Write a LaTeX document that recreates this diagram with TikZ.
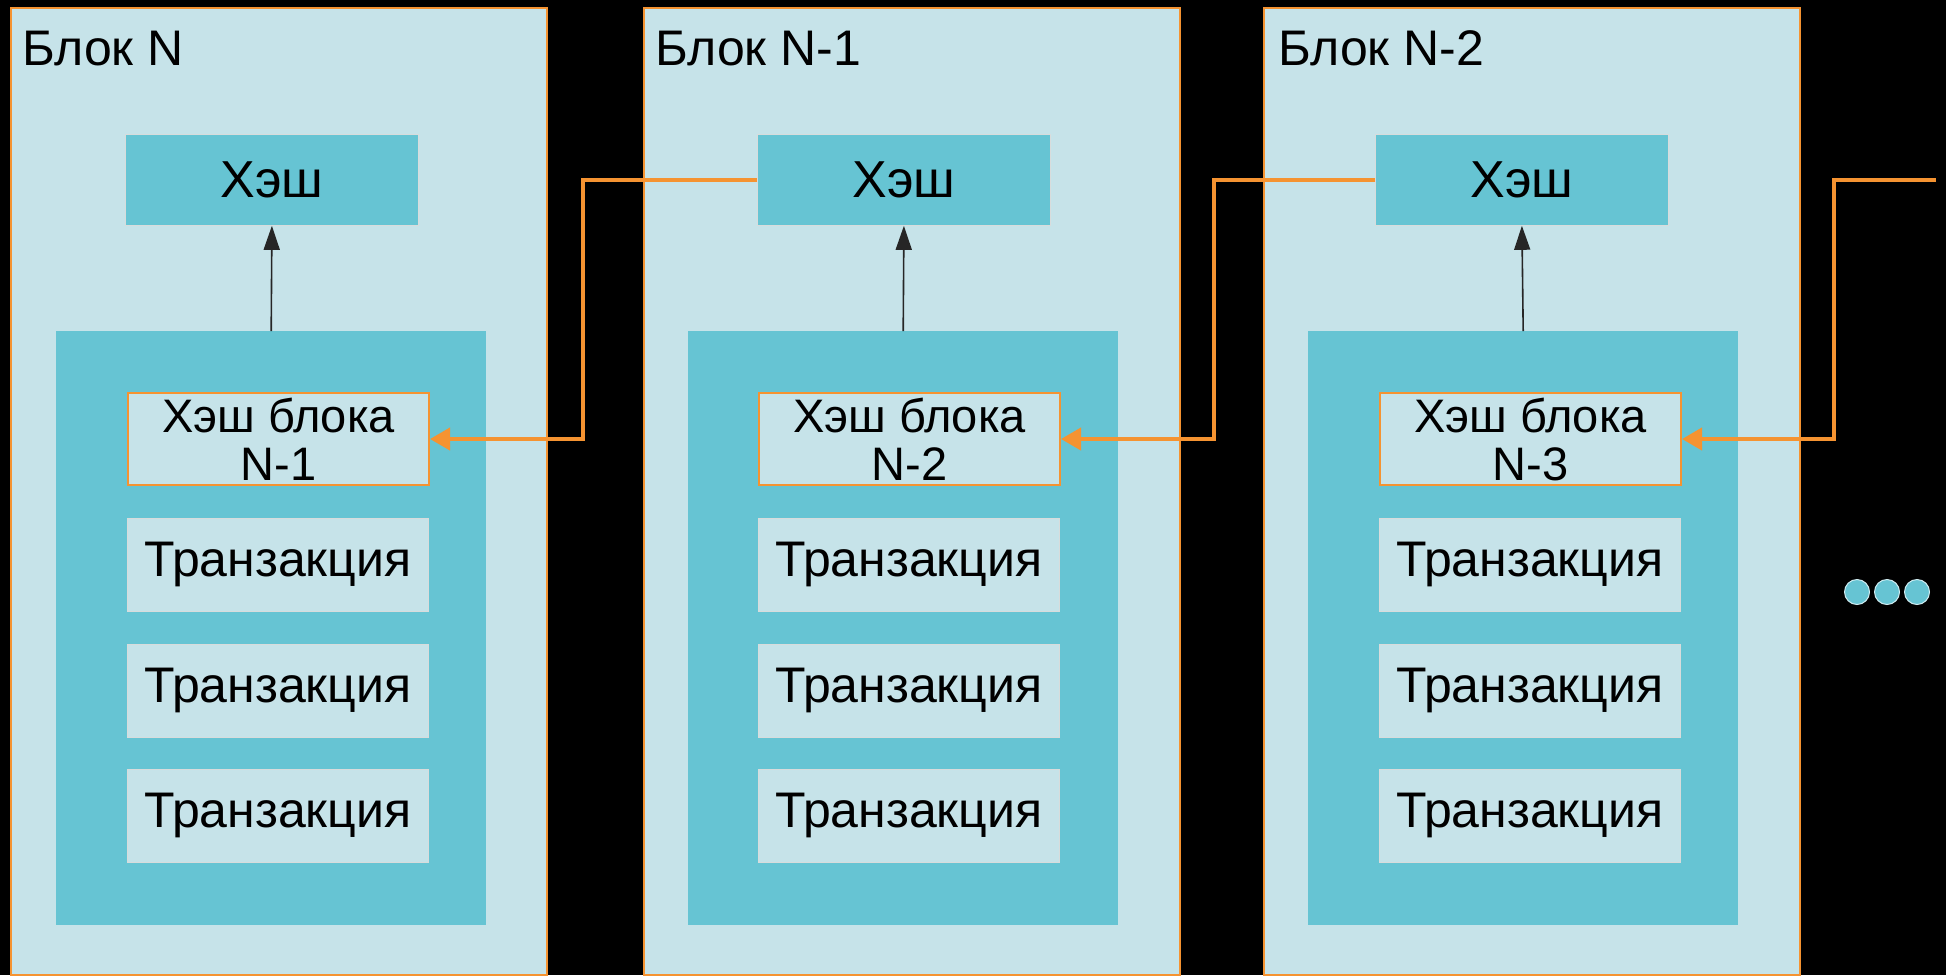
\documentclass[tikz,border=0pt]{standalone}
\usepackage{fontspec}
\setmainfont{Liberation Sans}
\usetikzlibrary{arrows.meta}
\definecolor{bglight}{HTML}{C6E3E9}
\definecolor{tealbox}{HTML}{66C4D3}
\definecolor{orng}{HTML}{F59331}
\definecolor{edgegray}{HTML}{D8DCDC}
\begin{document}
\begin{tikzpicture}[x=1pt,y=-1pt,
  blockbox/.style={draw=orng, line width=1.5pt, fill=bglight, anchor=north west, inner sep=0pt, minimum width=536pt, minimum height=967pt},
  blocklabel/.style={anchor=base west, font=\fontsize{50}{54}\selectfont, inner sep=0pt},
  hashbox/.style={fill=tealbox, draw=edgegray, line width=0.8pt, anchor=north west, inner sep=0pt, minimum width=293pt, minimum height=91pt, font=\fontsize{52}{56}\selectfont},
  innerbox/.style={fill=tealbox, draw=none, anchor=north west, inner sep=0pt, minimum width=430pt, minimum height=594pt},
  prevbox/.style={fill=bglight, draw=orng, line width=2pt, anchor=north west, inner sep=0pt, minimum width=301pt, minimum height=92pt, align=center, font=\fontsize{47}{48}\selectfont},
  txbox/.style={fill=bglight, draw=edgegray, line width=0.8pt, anchor=north west, inner sep=0pt, minimum width=301pt, minimum height=93pt, font=\fontsize{50}{54}\selectfont},
  hasharrow/.style={draw=black!85, line width=1.6pt, -{Triangle[length=24pt,width=16pt]}},
  conn/.style={draw=orng, line width=4pt, -{Triangle[length=20pt,width=22pt]}},
  dot/.style={circle, fill=tealbox, draw=white!70!tealbox, line width=1pt, minimum size=25pt, inner sep=0pt}
]
\fill[black] (0,0) rectangle (1946,975);
\useasboundingbox (0,0) rectangle (1946,975);

% Block N
\node[blockbox] (bN) at (10,7) {};
\node[blocklabel] (lN) at (22,65) {Блок N};
\node[hashbox] (hN) at (125,134) {Хэш};
\node[innerbox] (iN) at (56,331) {};
\node[prevbox] (pN) at (127,392) {Хэш блока\\N-1};
\node[txbox] (tN1) at (127,518) {Транзакция};
\node[txbox] (tN2) at (127,644) {Транзакция};
\node[txbox] (tN3) at (127,769) {Транзакция};
\draw[hasharrow] (iN.north) -- (hN.south);

% Block N-1
\node[blockbox] (bM) at (643,7) {};
\node[blocklabel] (lM) at (655,65) {Блок N-1};
\node[hashbox] (hM) at (757,134) {Хэш};
\node[innerbox] (iM) at (688,331) {};
\node[prevbox] (pM) at (758,392) {Хэш блока\\N-2};
\node[txbox] (tM1) at (758,518) {Транзакция};
\node[txbox] (tM2) at (758,644) {Транзакция};
\node[txbox] (tM3) at (758,769) {Транзакция};
\draw[hasharrow] (iM.north) -- (hM.south);

% Block N-2
\node[blockbox] (bK) at (1263,7) {};
\node[blocklabel] (lK) at (1278,65) {Блок N-2};
\node[hashbox] (hK) at (1375,134) {Хэш};
\node[innerbox] (iK) at (1308,331) {};
\node[prevbox] (pK) at (1379,392) {Хэш блока\\N-3};
\node[txbox] (tK1) at (1379,518) {Транзакция};
\node[txbox] (tK2) at (1379,644) {Транзакция};
\node[txbox] (tK3) at (1379,769) {Транзакция};
\draw[hasharrow] (iK.north) -- (hK.south);

% links
\draw[conn] (hM.west) -- ++(-174,0) |- (pN.east);
\draw[conn] (hK.west) -- ++(-161,0) |- (pM.east);
\coordinate (ext) at (1936,180);
\draw[conn] (ext) -- ++(-102,0) |- (pK.east);

% dots
\node[dot] (d1) at (1857,592) {};
\node[dot] (d2) at (1887,592) {};
\node[dot] (d3) at (1917,592) {};
\end{tikzpicture}
\end{document}
